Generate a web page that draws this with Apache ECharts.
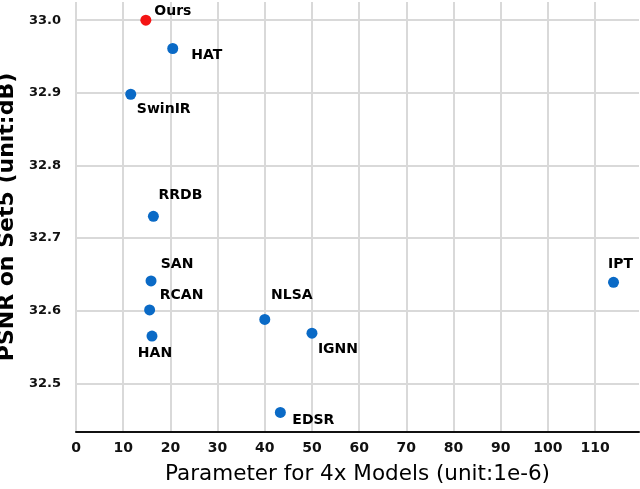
<!DOCTYPE html>
<html>
<head>
<meta charset="utf-8">
<script src="https://cdn.jsdelivr.net/npm/echarts@6/dist/echarts.min.js"></script>
<style>
html,body{margin:0;padding:0;background:#fff;}
#chart{width:640px;height:489px;}
</style>
</head>
<body>
<div id="chart"></div>
<script>
// ---- data ----
var models = ['Ours','HAT','SwinIR','RRDB','SAN','RCAN','HAN','NLSA','IGNN','EDSR','IPT'];
var params = [14.8, 20.5, 11.6, 16.4, 15.9, 15.6, 16.1, 40.0, 50.0, 43.3, 113.9];
var psnr   = [33.00, 32.961, 32.898, 32.730, 32.641, 32.601, 32.565, 32.588, 32.569, 32.460, 32.639];
var xTicks = [0,10,20,30,40,50,60,70,80,90,100,110];
var yTicks = [32.5,32.6,32.7,32.8,32.9,33.0];

// ---- label placement (style, not data) ----
var labelOffset = {
  'Ours':[27,-9], 'HAT':[34,7], 'SwinIR':[33,15], 'RRDB':[27,-21],
  'SAN':[26,-17], 'RCAN':[32,-15], 'HAN':[3,17], 'NLSA':[27,-24],
  'IGNN':[26,16], 'EDSR':[33,8], 'IPT':[7,-18]
};

var FONT = 'DejaVu Sans';
var pts = models.map(function(m,i){
  return {
    name: m,
    value: [params[i], psnr[i]],
    itemStyle: {color: m === 'Ours' ? '#f41414' : '#0a6ac6', opacity: 1},
    label: {offset: labelOffset[m]}
  };
});

var chart = echarts.init(document.getElementById('chart'), null, {renderer:'canvas'});
chart.setOption({
  animation: false,
  backgroundColor: '#ffffff',
  grid: {left: 76, right: 1, top: 2, bottom: 57, containLabel: false, outerBoundsMode: 'none'},
  xAxis: {
    type: 'value', min: 0, max: 119.3,
    name: 'Parameter for 4x Models (unit:1e-6)',
    nameLocation: 'middle', nameGap: 31,
    nameTextStyle: {fontFamily: FONT, fontSize: 21.5, color: '#000'},
    axisLine: {show: true, lineStyle: {color: '#111', width: 2}},
    axisTick: {show: false, customValues: xTicks},
    axisLabel: {customValues: xTicks, fontFamily: FONT, fontSize: 14, fontWeight: 'bold', color: '#111', margin: 9},
    splitLine: {show: true, lineStyle: {color: '#d9d9d9', width: 2}}
  },
  yAxis: {
    type: 'value', min: 32.433, max: 33.025,
    name: 'PSNR on Set5 (unit:dB)',
    nameLocation: 'middle', nameGap: 47,
    nameTextStyle: {fontFamily: FONT, fontSize: 22, fontWeight: 'bold', color: '#000'},
    axisLine: {show: false},
    axisTick: {show: false, customValues: yTicks},
    axisLabel: {customValues: yTicks, fontFamily: FONT, fontSize: 13, fontWeight: 'bold', color: '#111', margin: 15,
      formatter: function(v){ return v.toFixed(1); }},
    splitLine: {show: true, lineStyle: {color: '#d9d9d9', width: 2}}
  },
  series: [{
    type: 'scatter',
    symbolSize: 11,
    data: pts,
    label: {
      show: true, position: 'inside',
      formatter: '{b}',
      fontFamily: FONT, fontSize: 14, fontWeight: 'bold', color: '#000'
    },
    emphasis: {disabled: true}
  }]
});
</script>
</body>
</html>
